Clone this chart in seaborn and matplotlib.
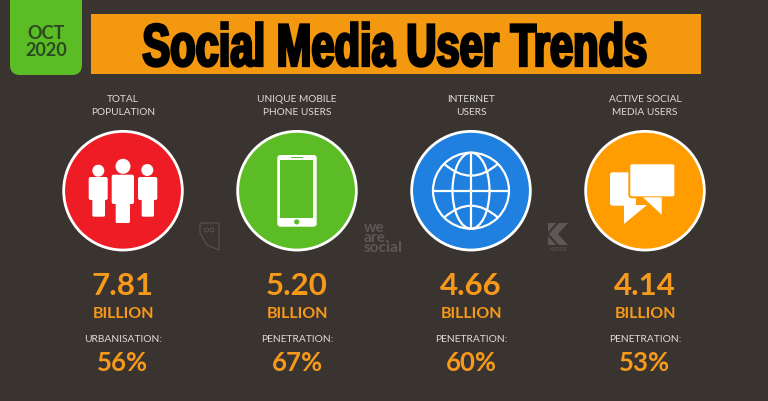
import numpy as np
import pandas as pd
import matplotlib
matplotlib.use('Agg')
import matplotlib.pyplot as plt
import seaborn as sb
from matplotlib.patches import Circle, Ellipse, FancyBboxPatch, PathPatch, Polygon, Rectangle
from matplotlib.path import Path
from matplotlib.patheffects import AbstractPathEffect
from matplotlib.transforms import Affine2D

# data
categories = ['TOTAL\nPOPULATION', 'UNIQUE MOBILE\nPHONE USERS', 'INTERNET\nUSERS', 'ACTIVE SOCIAL\nMEDIA USERS']
values = ['7.81', '5.20', '4.66', '4.14']
units = ['BILLION', 'BILLION', 'BILLION', 'BILLION']
sublabels = ['URBANISATION:', 'PENETRATION:', 'PENETRATION:', 'PENETRATION:']
shares = ['56%', '67%', '60%', '53%']
circle_colors = ['#ee1c25', '#5cbc26', '#1f80e0', '#ff9c00']
title = 'Social Media User Trends'
date_label = 'OCT\n2020'

BG = '#3a3431'
ORANGE = '#f7991a'
TEXT = '#dedbd8'
LOGO = '#5d5855'
col_x = [123, 297, 471, 645]
cy = 191.7

sb.set_theme(style='white')
plt.rcParams['font.family'] = ['Lato', 'DejaVu Sans']

fig, ax = plt.subplots(figsize=(7.68, 4.02), dpi=100, facecolor=BG)
ax.set_position([0, 0, 1, 1])
ax.set_facecolor(BG)


class Stretch(AbstractPathEffect):
    # stretch the text upward around a centre, the title font is very condensed
    def __init__(self, centre, sx, sy, lw):
        super().__init__()
        self.centre, self.sx, self.sy, self.lw = centre, sx, sy, lw

    def draw_path(self, renderer, gc, tpath, affine, rgbFace=None):
        cx, cy_ = self.centre
        aff = affine + Affine2D().translate(-cx, -cy_).scale(self.sx, self.sy).translate(cx, cy_)
        gc0 = renderer.new_gc()
        gc0.copy_properties(gc)
        gc0.set_linewidth(self.lw)
        gc0.set_foreground(rgbFace)
        gc0.set_joinstyle('miter')
        renderer.draw_path(gc0, tpath, aff, rgbFace)
        gc0.restore()


# header
ax.add_patch(FancyBboxPatch((10, -20), 72, 96, boxstyle='round,pad=0,rounding_size=10', fc='#5bbc25', ec='none'))
ax.add_patch(Rectangle((90.5, 14.5), 610, 60.5, fc='#f3980f', ec='none'))

# circles
df = pd.DataFrame({'x': col_x, 'y': [cy] * 4, 'cat': categories})
sb.scatterplot(data=df, x='x', y='y', hue='cat', palette=circle_colors, s=7300,
               edgecolor='white', linewidth=2.0, legend=False, ax=ax, zorder=2)

ax.set_xlim(0, 768)
ax.set_ylim(402, 0)
ax.axis('off')

W = 'white'
# people icon
for hx, hy, hr, bl, br, bt, bb, ll, lr, lb in [
        (98.3, 171.7, 6.0, 88.7, 107.7, 178, 201, 92.3, 105, 217.7),
        (147.3, 171.0, 6.0, 138, 157.3, 178, 201, 141.7, 154, 217.7),
        (123, 167.3, 7.5, 111.7, 134, 175.7, 205, 115.7, 130, 224)]:
    ax.add_patch(Circle((hx, hy), hr, fc=W, ec='none', zorder=3))
    ax.add_patch(FancyBboxPatch((bl, bt), br - bl, bb - bt, boxstyle='round,pad=0,rounding_size=2', fc=W, ec='none', zorder=3))
    ax.add_patch(FancyBboxPatch((ll, bb - 2), lr - ll, lb - bb + 2, boxstyle='round,pad=0,rounding_size=1.5', fc=W, ec='none', zorder=3))

# phone icon
ax.add_patch(FancyBboxPatch((277.3, 156), 39.4, 71.7, boxstyle='round,pad=0,rounding_size=3', fc=W, ec='none', zorder=3))
ax.add_patch(Rectangle((280, 161), 33.3, 58, fc=circle_colors[1], ec='none', zorder=4))
ax.add_patch(Circle((296.7, 222.9), 2.6, fc=circle_colors[1], ec='none', zorder=4))
ax.add_patch(Rectangle((291, 158), 11.5, 1, fc=circle_colors[1], ec='none', zorder=4))

# globe icon
gx, R = col_x[2], 38
globe = dict(fc='none', ec=W, lw=1.6, zorder=3)
ax.add_patch(Circle((gx, cy), R, **globe))
ax.add_patch(Ellipse((gx, cy), 37, 2 * R, **globe))
ax.plot([gx - R, gx + R], [cy, cy], color=W, lw=1.6, zorder=3)
ax.plot([gx, gx], [cy - R, cy + R], color=W, lw=1.6, zorder=3)
for sgn in (-1, 1):
    arc = Path([(gx - 27, cy + sgn * 27), (gx, cy + sgn * 3), (gx + 27, cy + sgn * 27)],
               [Path.MOVETO, Path.CURVE3, Path.CURVE3])
    ax.add_patch(PathPatch(arc, **globe))

# chat icon
ax.add_patch(FancyBboxPatch((610, 173.3), 26, 33.4, boxstyle='round,pad=0,rounding_size=2.5', fc=W, ec='none', zorder=3))
ax.add_patch(Polygon([(624, 206), (624, 225), (647, 206)], fc=W, ec='none', zorder=3))
big = dict(fc=W, ec=circle_colors[3], lw=1.4, zorder=4)
ax.add_patch(FancyBboxPatch((629.3, 164.3), 46, 34, boxstyle='round,pad=0,rounding_size=2.5', **big))
ax.add_patch(Polygon([(643, 198.3), (661.7, 215.7), (661.7, 198.3)], fc=W, ec='none', zorder=5))

# faint logos
ax.add_patch(Polygon([(200, 224), (219, 224), (219, 251), (207, 246), (200, 234)], fc='none', ec=LOGO, lw=0.7))
ax.add_patch(Circle((206.5, 231), 2, fc='none', ec=LOGO, lw=0.6))
ax.add_patch(Circle((212, 231), 2, fc='none', ec=LOGO, lw=0.6))
ax.text(364, 238, 'we\nare.\nsocial', color=LOGO, fontsize=11.2, fontweight='bold', va='center', ha='left', linespacing=0.65)
ax.add_patch(Polygon([(548, 224), (556, 224), (548, 233)], fc=LOGO, ec='none'))
ax.add_patch(Polygon([(559, 224), (568, 224), (558, 235), (568, 246), (559, 246), (549, 235)], fc=LOGO, ec='none'))
ax.add_patch(Polygon([(548, 237), (556, 246), (548, 246)], fc=LOGO, ec='none'))
ax.text(558, 249.5, 'KEPIOS', color=LOGO, fontsize=3.6, ha='center', va='center')

# header text
centre = ax.transData.transform((395, 51))
ax.text(395, 51, title, color='black', fontsize=30, fontweight='bold', family=['Liberation Sans Narrow', 'Liberation Sans'],
        ha='center', va='center', path_effects=[Stretch(centre, 1.0, 1.43, 2.0)], zorder=6)
ax.text(46, 42, date_label, color='#2c4a1f', fontsize=13, fontweight='bold', ha='center', va='center', linespacing=1.0)

# columns of text
for x, cat, val, unit, sub, share in zip(col_x, categories, values, units, sublabels, shares):
    ax.text(x, 106, cat, color=TEXT, fontsize=7.3, ha='center', va='center', linespacing=1.45)
    ax.text(x, 286.5, val, color=ORANGE, fontsize=22.5, fontweight='bold', ha='center', va='center')
    ax.text(x, 314, unit, color=ORANGE, fontsize=11.5, fontweight='bold', ha='center', va='center')
    ax.text(x, 339.5, sub, color=TEXT, fontsize=7.4, ha='center', va='center')
    ax.text(x, 363, share, color=ORANGE, fontsize=18.5, fontweight='bold', ha='center', va='center')

fig.savefig('out.png', dpi=100, facecolor=BG)
